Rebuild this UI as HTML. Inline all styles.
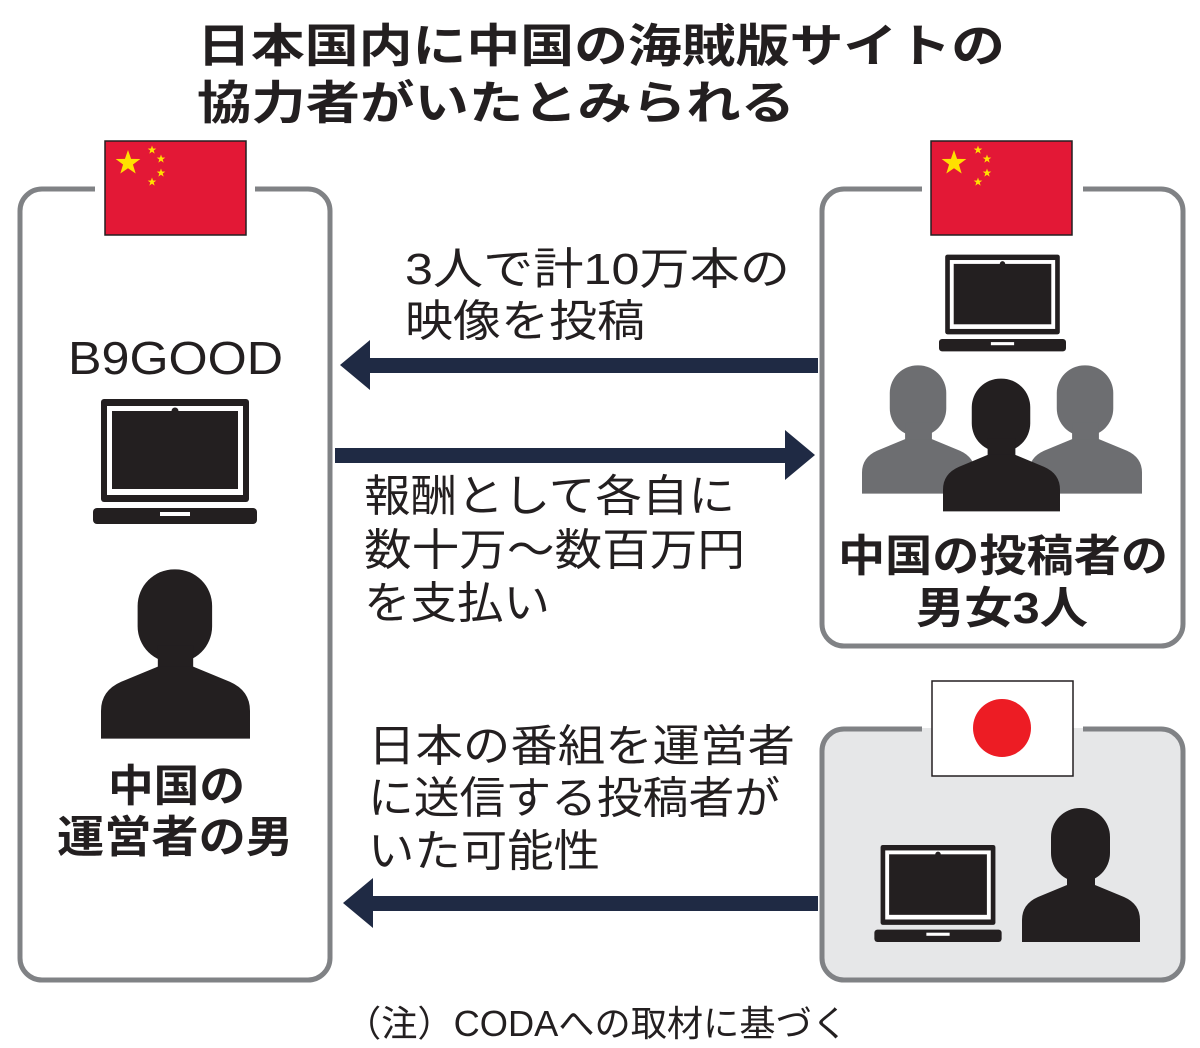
<!DOCTYPE html>
<html><head><meta charset="utf-8"><style>
html,body{margin:0;padding:0;background:#fff;}
svg{display:block;}
text{font-family:"Liberation Sans","Noto Sans CJK JP",sans-serif;fill:#231f20;}
.b{font-weight:bold;}
</style></head><body>
<svg width="1200" height="1048" viewBox="0 0 1200 1048" xmlns="http://www.w3.org/2000/svg">
<defs>
<symbol id="lap" viewBox="0 0 164 125">
<rect x="8" y="0" width="148" height="103" rx="3" fill="#231f20"/>
<rect x="14" y="7" width="136" height="89" fill="#fff"/>
<rect x="19" y="12" width="126" height="78" fill="#231f20"/>
<circle cx="82" cy="12" r="3.5" fill="#231f20"/>
<rect x="0" y="109" width="164" height="16" rx="4" fill="#231f20"/>
<rect x="67" y="113" width="30" height="4" fill="#fff"/>
</symbol>
<symbol id="per" viewBox="0 0 118 134">
<rect x="29" y="0" width="59" height="74" rx="29"/>
<rect x="45" y="60" width="28" height="22"/>
<path d="M0,134 V112 Q0,96 16,89 L45,77 H73 L102,89 Q118,96 118,112 V134 Z"/>
</symbol>
<polygon id="st" fill="#ffe000" points="0,-10 2.35,-3.2 9.5,-3.1 3.8,1.2 5.9,8.1 0,4 -5.9,8.1 -3.8,1.2 -9.5,-3.1 -2.35,-3.2"/>
</defs>
<text x="197" y="62" font-size="46" class="b" textLength="808" lengthAdjust="spacingAndGlyphs">日本国内に中国の海賊版サイトの</text>
<text x="197" y="119" font-size="46" class="b" textLength="598" lengthAdjust="spacingAndGlyphs">協力者がいたとみられる</text>

<rect x="20" y="189" width="310" height="791" rx="22" fill="none" stroke="#808285" stroke-width="5"/>
<rect x="822" y="189" width="361" height="457" rx="22" fill="none" stroke="#808285" stroke-width="5"/>
<rect x="822" y="729" width="361" height="251" rx="22" fill="#e6e7e8" stroke="#808285" stroke-width="5"/>
<rect x="95" y="180" width="160" height="20" fill="#fff"/>
<rect x="922" y="180" width="161" height="20" fill="#fff"/>
<rect x="922" y="720" width="161" height="20" fill="#e6e7e8"/>
<rect x="922" y="720" width="161" height="8" fill="#fff"/>

<g id="cf">
<rect x="105" y="141" width="141" height="94" fill="#e31836" stroke="#231f20" stroke-width="1.5"/>
<use href="#st" transform="translate(128,163) scale(1.3)"/>
<use href="#st" transform="translate(152,150) scale(0.45)"/>
<use href="#st" transform="translate(161,159) scale(0.45)"/>
<use href="#st" transform="translate(161,173) scale(0.45)"/>
<use href="#st" transform="translate(152,182) scale(0.45)"/>
</g>
<use href="#cf" x="826" y="0"/>
<rect x="932" y="681" width="141" height="95" fill="#fff" stroke="#231f20" stroke-width="1.5"/>
<circle cx="1002" cy="728" r="29" fill="#ed1c24"/>

<g fill="#1f2a44">
<rect x="365" y="358" width="453" height="15"/>
<polygon points="340,365 370,340 370,390"/>
<rect x="335" y="448" width="455" height="15"/>
<polygon points="815,455 785,430 785,480"/>
<rect x="368" y="896" width="450" height="15"/>
<polygon points="343,903 373,878 373,928"/>
</g>

<use href="#lap" x="93" y="399" width="164" height="125"/>
<use href="#per" x="101" y="568" width="149" height="172" fill="#231f20" preserveAspectRatio="none"/>
<use href="#lap" x="939" y="254" width="127" height="98" preserveAspectRatio="none"/>
<use href="#per" x="862" y="362" width="113" height="135" fill="#6d6e71" preserveAspectRatio="none"/>
<use href="#per" x="1029" y="362" width="113" height="135" fill="#6d6e71" preserveAspectRatio="none"/>
<use href="#per" x="943" y="377" width="117" height="136" fill="#231f20" preserveAspectRatio="none"/>
<use href="#lap" x="874" y="845" width="128" height="97" preserveAspectRatio="none"/>
<use href="#per" x="1022" y="808" width="118" height="134" fill="#231f20" preserveAspectRatio="none"/>

<text x="68" y="374" font-size="46" textLength="215" lengthAdjust="spacingAndGlyphs">B9GOOD</text>
<text x="108" y="801" font-size="44" class="b" textLength="137" lengthAdjust="spacingAndGlyphs">中国の</text>
<text x="57" y="852" font-size="44" class="b" textLength="236" lengthAdjust="spacingAndGlyphs">運営者の男</text>
<text x="838" y="571" font-size="44" class="b" textLength="330" lengthAdjust="spacingAndGlyphs">中国の投稿者の</text>
<text x="916" y="623" font-size="44" class="b" textLength="172" lengthAdjust="spacingAndGlyphs">男女3人</text>

<text x="405" y="284" font-size="44" textLength="385" lengthAdjust="spacingAndGlyphs">3人で計10万本の</text>
<text x="405" y="336" font-size="44" textLength="240" lengthAdjust="spacingAndGlyphs">映像を投稿</text>
<text x="364" y="511" font-size="44" textLength="371" lengthAdjust="spacingAndGlyphs">報酬として各自に</text>
<text x="364" y="565" font-size="44" textLength="381" lengthAdjust="spacingAndGlyphs">数十万～数百万円</text>
<text x="364" y="618" font-size="44" textLength="186" lengthAdjust="spacingAndGlyphs">を支払い</text>
<text x="368" y="761" font-size="44" textLength="427" lengthAdjust="spacingAndGlyphs">日本の番組を運営者</text>
<text x="368" y="813" font-size="44" textLength="412" lengthAdjust="spacingAndGlyphs">に送信する投稿者が</text>
<text x="368" y="866" font-size="44" textLength="232" lengthAdjust="spacingAndGlyphs">いた可能性</text>
<text x="345" y="1036" font-size="36" textLength="503" lengthAdjust="spacingAndGlyphs">（注）CODAへの取材に基づく</text>
</svg>
</body></html>
